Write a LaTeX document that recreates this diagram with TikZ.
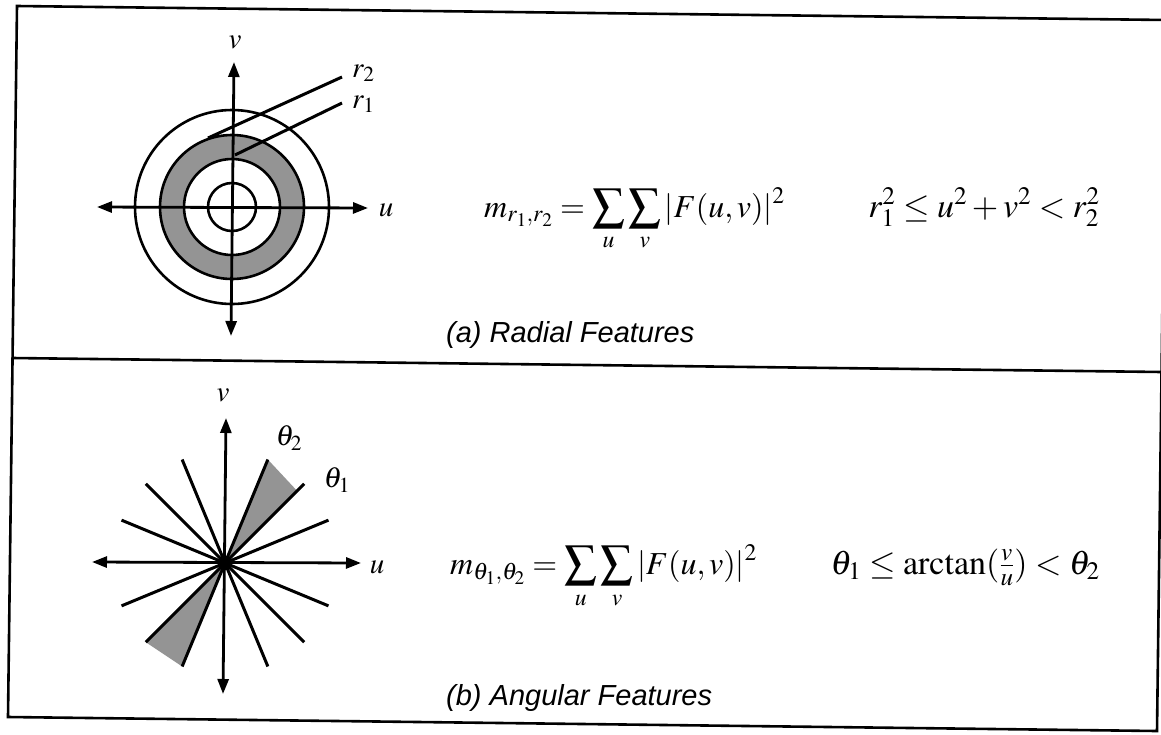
\documentclass[tikz,border=0pt]{standalone}
\usepackage{amsmath}
\usepackage{mathptmx}
\usepackage{fontspec}
\setmainfont{Liberation Serif}
\newfontfamily\capfont{Liberation Sans}
\usetikzlibrary{arrows.meta}
\tikzset{
  frameline/.style={line width=2.6pt, line cap=round},
  axisline/.style={line width=2.8pt, {Triangle[length=15pt,width=11pt]}-{Triangle[length=15pt,width=11pt]}},
  ringline/.style={line width=2.6pt},
  rayline/.style={line width=3pt},
  stipple/.style={fill=black!42},
  axlabel/.style={inner sep=0pt, font=\fontsize{29}{31}\selectfont},
  formula/.style={inner sep=0pt, font=\fontsize{32}{36}\selectfont},
  condition/.style={inner sep=0pt, font=\fontsize{34}{38}\selectfont},
  caption/.style={inner sep=0pt, anchor=base west, font=\capfont\itshape\fontsize{29}{33}\selectfont}
}
\begin{document}
\begin{tikzpicture}[x=1pt, y=-1pt]
\useasboundingbox (0,0) rectangle (1161,734);
% ---- frame (slightly skewed scan) ----
\coordinate (TL) at (17,6);
\coordinate (TR) at (1166,20);
\coordinate (BR) at (1157,731);
\coordinate (BL) at (8,717);
\coordinate (ML) at (12.6,358);
\coordinate (MR) at (1162,372);
\draw[frameline] (TR) -- (TL) -- (BL) -- (BR) -- (TR);
\draw[frameline] (ML) -- (MR);

% ---- (a) radial features ----
\coordinate (c1) at (232,207);
\fill[stipple, even odd rule] (c1) circle (72) (c1) circle (48);
\draw[ringline] (c1) circle (97);
\draw[ringline] (c1) circle (72);
\draw[ringline] (c1) circle (48);
\draw[ringline] (c1) circle (24);
\coordinate (uL1) at (97,207);
\coordinate (uR1) at (368,208);
\coordinate (vT1) at (234,62);
\coordinate (vB1) at (231,336);
\draw[axisline] (uL1) -- (uR1);
\draw[axisline] (vT1) -- (vB1);
\coordinate (r2a) at (208,138);
\coordinate (r2b) at (342,77);
\coordinate (r1a) at (235,155);
\coordinate (r1b) at (342,103);
\draw[rayline] (r2a) -- (r2b);
\draw[rayline] (r1a) -- (r1b);
\node[axlabel, anchor=west] (lr2) at (352,73) {$r_2$};
\node[axlabel, anchor=west] (lr1) at (352,104) {$r_1$};
\node[axlabel] (lv1) at (235,42) {$v$};
\node[axlabel] (lu1) at (386,210) {$u$};
\node[formula, anchor=base west] (fa) at (484,217)
  {$\displaystyle m_{r_1,r_2} = \sum_u\sum_v |F(u,v)|^2$};
\node[condition, anchor=base east] (ca) at (1100,217)
  {$r_1^2 \le u^2 + v^2 < r_2^2$};
\node[caption] (capa) at (446,342) {(a) Radial Features};

% ---- (b) angular features ----
\coordinate (c2) at (225,563);
\begin{scope}[shift={(225,563)}, y=1pt]
  \coordinate (p225) at (22.5:112);
  \coordinate (p45)  at (45:112);
  \coordinate (p675) at (67.5:112);
  \coordinate (p1125) at (112.5:112);
  \coordinate (p135) at (135:112);
  \coordinate (p1575) at (157.5:112);
  \coordinate (q225) at (202.5:112);
  \coordinate (q45)  at (225:112);
  \coordinate (q675) at (247.5:112);
  \coordinate (q1125) at (292.5:112);
  \coordinate (q135) at (315:112);
  \coordinate (q1575) at (337.5:112);
  \coordinate (s45) at (45:102);
\end{scope}
\fill[stipple] (c2) -- (p675) -- (s45) -- cycle;
\fill[stipple] (c2) -- (q45) -- (q675) -- cycle;
\draw[rayline] (p225) -- (q225);
\draw[rayline] (p45) -- (q45);
\draw[rayline] (p675) -- (q675);
\draw[rayline] (p1125) -- (q1125);
\draw[rayline] (p135) -- (q135);
\draw[rayline] (p1575) -- (q1575);
\coordinate (uL2) at (92,562);
\coordinate (uR2) at (361,563);
\coordinate (vT2) at (226,418);
\coordinate (vB2) at (223,694);
\draw[axisline] (uL2) -- (uR2);
\draw[axisline] (vT2) -- (vB2);
\node[axlabel] (lv2) at (223,395) {$v$};
\node[axlabel] (lu2) at (377,567) {$u$};
\node[axlabel] (lt2) at (289,438) {$\theta_2$};
\node[axlabel] (lt1) at (337,480) {$\theta_1$};
\node[formula, anchor=base west] (fb) at (450,574)
  {$\displaystyle m_{\theta_1,\theta_2} = \sum_u\sum_v |F(u,v)|^2$};
\node[condition, anchor=base east] (cb) at (1100,574)
  {$\theta_1 \le \mathrm{arctan}(\tfrac{v}{u}) < \theta_2$};
\node[caption] (capb) at (446,705) {(b) Angular Features};
\end{tikzpicture}
\end{document}
